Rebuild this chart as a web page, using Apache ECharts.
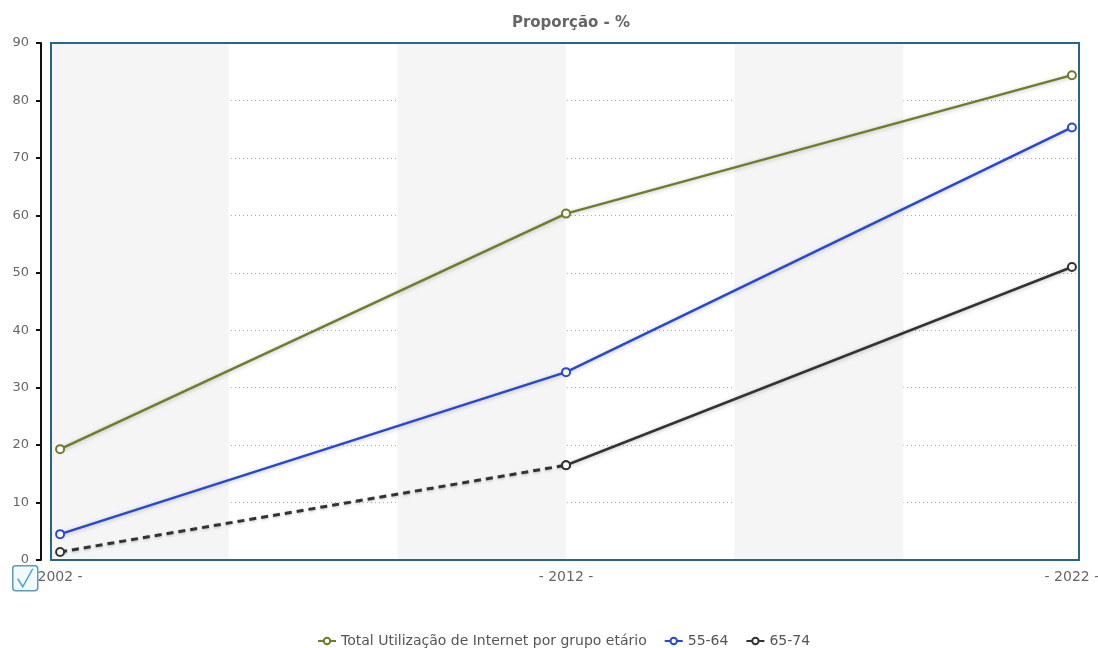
<!DOCTYPE html>
<html>
<head>
<meta charset="utf-8">
<title>Proporção - %</title>
<script src="https://cdn.jsdelivr.net/npm/echarts@6/dist/echarts.min.js"></script>
<style>
  html, body { margin: 0; padding: 0; background: #fff; }
  #chart { width: 1098px; height: 648px; }
</style>
</head>
<body>
<div id="chart"></div>
<script>
// dados
const years = [2002, 2012, 2022]
const totalValues = [19.3, 60.3, 84.4]
const age5564Values = [4.5, 32.7, 75.3]
const age6574Values = [1.4, 16.5, 51.0]
const xLabels = ['2002 -', '- 2012 -', '- 2022 -']
// faixas cinzentas do fundo (em anos)
const bands = [[2001.82, 2005.33], [2008.67, 2012], [2015.33, 2018.67]]

const pairs = (vals) => years.map((y, i) => [y, vals[i]])

const chart = echarts.init(document.getElementById('chart'))
const font = 'DejaVu Sans, Verdana, sans-serif'

function lineSeries(name, color, data, extra) {
  return Object.assign({
    name: name,
    type: 'line',
    data: data,
    symbol: 'emptyCircle',
    symbolSize: 8,
    itemStyle: { color: color, borderColor: color, borderWidth: 1.5 },
    lineStyle: { color: color, width: 2.5, shadowBlur: 4, shadowColor: 'rgba(0,0,0,0.25)', shadowOffsetY: 1 },
    emphasis: { disabled: true },
    z: 3
  }, extra || {})
}

const blackSolid = pairs(age6574Values).map((p, i) => (i === 0 ? [p[0], null] : p))
const blackDashed = pairs(age6574Values).map((p, i) => (i === 2 ? [p[0], null] : p))

const option = {
  animation: false,
  textStyle: { fontFamily: font },
  title: {
    text: 'Proporção - %',
    left: 566,
    top: 11,
    textAlign: 'center',
    textStyle: { fontSize: 15, fontWeight: 'bold', color: '#666', fontFamily: font }
  },
  grid: {
    left: 51, right: 19, top: 43, bottom: 88,
    outerBoundsMode: 'none',
    containLabel: false,
    show: true,
    z: 10,
    borderColor: '#2b6585',
    borderWidth: 2,
    backgroundColor: 'transparent'
  },
  legend: {
    data: ['Total Utilização de Internet por grupo etário', '55-64', '65-74'],
    top: 629,
    left: 312,
    itemWidth: 18,
    itemHeight: 8,
    itemGap: 17,
    textStyle: { fontSize: 14, color: '#555', fontFamily: font }
  },
  xAxis: {
    type: 'value',
    min: 2001.82,
    max: 2022.14,
    axisLine: { show: false },
    axisTick: { show: false },
    splitLine: { show: false },
    axisLabel: {
      customValues: years,
      formatter: (v) => xLabels[years.indexOf(v)],
      color: '#666',
      fontSize: 14,
      margin: 10,
      showMinLabel: true,
      showMaxLabel: true
    }
  },
  yAxis: {
    type: 'value',
    min: 0,
    max: 90,
    interval: 10,
    offset: 10,
    axisLine: { show: true, lineStyle: { color: '#111', width: 2 } },
    axisTick: { show: true, length: 5, lineStyle: { color: '#111', width: 2 } },
    axisLabel: { color: '#666', fontSize: 13, margin: 12 },
    splitLine: { show: true, lineStyle: { color: '#aaa', type: [1, 3], width: 1 } }
  },
  series: [
    lineSeries('Total Utilização de Internet por grupo etário', '#6e7d2c', pairs(totalValues), {
      markArea: {
        silent: true,
        itemStyle: { color: '#f5f5f5' },
        data: bands.map((b) => [{ xAxis: b[0] }, { xAxis: b[1] }])
      }
    }),
    lineSeries('55-64', '#2748d4', pairs(age5564Values)),
    lineSeries('65-74', '#333333', blackSolid),
    lineSeries('65-74 (tracejado)', '#333333', blackDashed, {
      lineStyle: { color: '#333', width: 3, type: [7, 5], shadowBlur: 3, shadowColor: 'rgba(0,0,0,0.25)', shadowOffsetY: 1 }
    })
  ],
  graphic: [
    {
      type: 'group',
      left: 12,
      top: 565,
      z: 100,
      children: [
        { type: 'rect', shape: { x: 0, y: 0, width: 25, height: 25, r: 3 }, style: { fill: '#f2f9fc', stroke: '#5b9bb8', lineWidth: 1.5 } },
        { type: 'polyline', shape: { points: [[5, 13], [10, 21], [20, 3]] }, style: { stroke: '#4a9fd0', lineWidth: 1.5, fill: null } }
      ]
    }
  ]
}

chart.setOption(option)
</script>
</body>
</html>
